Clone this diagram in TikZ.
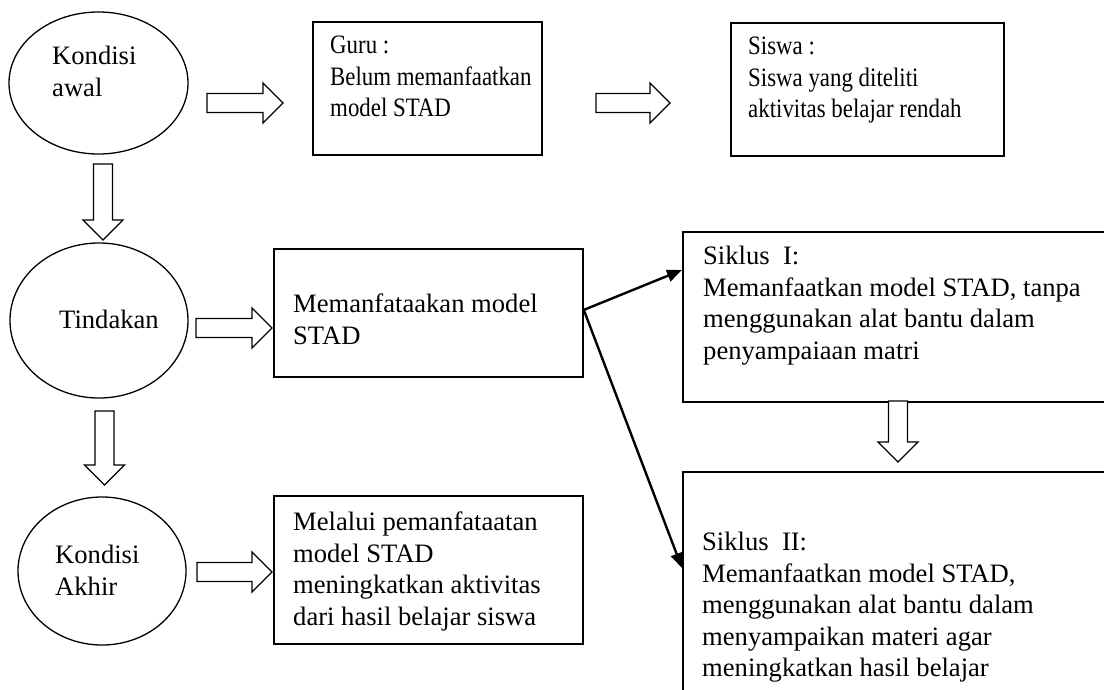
\documentclass[tikz,border=0pt]{standalone}
\usepackage{fontspec}
\setmainfont{Liberation Serif}
\newfontfamily\narrowserif[FakeStretch=0.86]{Liberation Serif}
\usepackage{tikz}
\usetikzlibrary{arrows.meta, positioning, shapes.geometric}

\begin{document}
\begin{tikzpicture}[x=1pt, y=-1pt,
        state/.style={ellipse, draw=black, line width=1.3pt, inner sep=0pt},
        box/.style={rectangle, draw=black, line width=1.8pt, anchor=north west, inner sep=0pt},
        txt/.style={anchor=north west, inner sep=0pt, align=left, font=\fontsize{26.6}{31.5}\selectfont},
        narrowtxt/.style={txt, font=\narrowserif\fontsize{26.6}{31.5}\selectfont},
        blockarrow/.style={draw=black, line width=1.3pt, fill=white, line join=miter},
        pointer/.style={-{Triangle[length=15pt, width=12pt]}, line width=2.4pt, black}
    ]
    \useasboundingbox (0,0) rectangle (1104,689);
    \fill[white] (0,0) rectangle (1104,689);
    \clip (0,0) rectangle (1104,689);

    % conditions
    \node[state, minimum width=179pt, minimum height=142pt] (awal) at (98.5,83) {};
    \node[state, minimum width=178pt, minimum height=155pt] (tindakan) at (99,320.5) {};
    \node[state, minimum width=168pt, minimum height=148pt] (akhir) at (102,571) {};
    \node[txt] (awaltxt) at (52,46) {Kondisi\\awal};
    \node[txt] (tindakantxt) at (59,310) {Tindakan};
    \node[txt] (akhirtxt) at (55,545) {Kondisi\\Akhir};

    % boxes
    \node[box, minimum width=229pt, minimum height=133pt] (guru) at (312,21) {};
    \node[box, minimum width=273pt, minimum height=133pt] (siswa) at (730,22) {};
    \node[box, minimum width=309pt, minimum height=128pt] (manfaat) at (273,248) {};
    \node[box, minimum width=450pt, minimum height=170pt] (siklus1) at (682,231) {};
    \node[box, minimum width=450pt, minimum height=250pt] (siklus2) at (682,471) {};
    \node[box, minimum width=309pt, minimum height=148pt] (melalui) at (273,495) {};

    \node[narrowtxt] (gurutxt) at (330,36) {Guru :\\Belum memanfaatkan\\model STAD};
    \node[narrowtxt] (siswatxt) at (748,37) {Siswa :\\Siswa yang diteliti\\aktivitas belajar rendah};
    \node[txt] (manfaattxt) at (293,294) {Memanfataakan model\\STAD};
    \node[txt] (siklus1txt) at (703,246) {Siklus\ \ I:\\Memanfaatkan model STAD, tanpa\\menggunakan alat bantu dalam\\penyampaiaan matri};
    \node[txt] (siklus2txt) at (702,532) {Siklus\ \ II:\\Memanfaatkan model STAD,\\menggunakan alat bantu dalam\\menyampaikan materi agar\\meningkatkan hasil belajar};
    \node[txt] (melaluitxt) at (293,512) {Melalui pemanfataatan\\model STAD\\meningkatkan aktivitas\\dari hasil belajar siswa};

    % hollow arrows
    \foreach \x/\y/\l in {207/103/76, 596/103/74, 196/328/76, 197/572/75}
        \draw[blockarrow] (\x,\y-9.5) -- ++(\l-20,0) -- ++(0,-10.5) -- ++(20,20)
            -- ++(-20,20) -- ++(0,-10.5) -- ++(-\l+20,0) -- cycle;
    \foreach \x/\y/\l in {103/164/76, 104.5/411/74, 898/401/61}
        \draw[blockarrow] (\x-9.5,\y) -- ++(0,\l-20) -- ++(-10.5,0) -- ++(20,20)
            -- ++(20,-20) -- ++(-10.5,0) -- ++(0,-\l+20) -- cycle;

    % cycles
    \draw[pointer] ([yshift=3pt]manfaat.east) -- ([yshift=-39pt]siklus1.north west);
    \draw[pointer] ([yshift=3pt]manfaat.east) -- ([yshift=-97pt]siklus2.north west);
\end{tikzpicture}
\end{document}
